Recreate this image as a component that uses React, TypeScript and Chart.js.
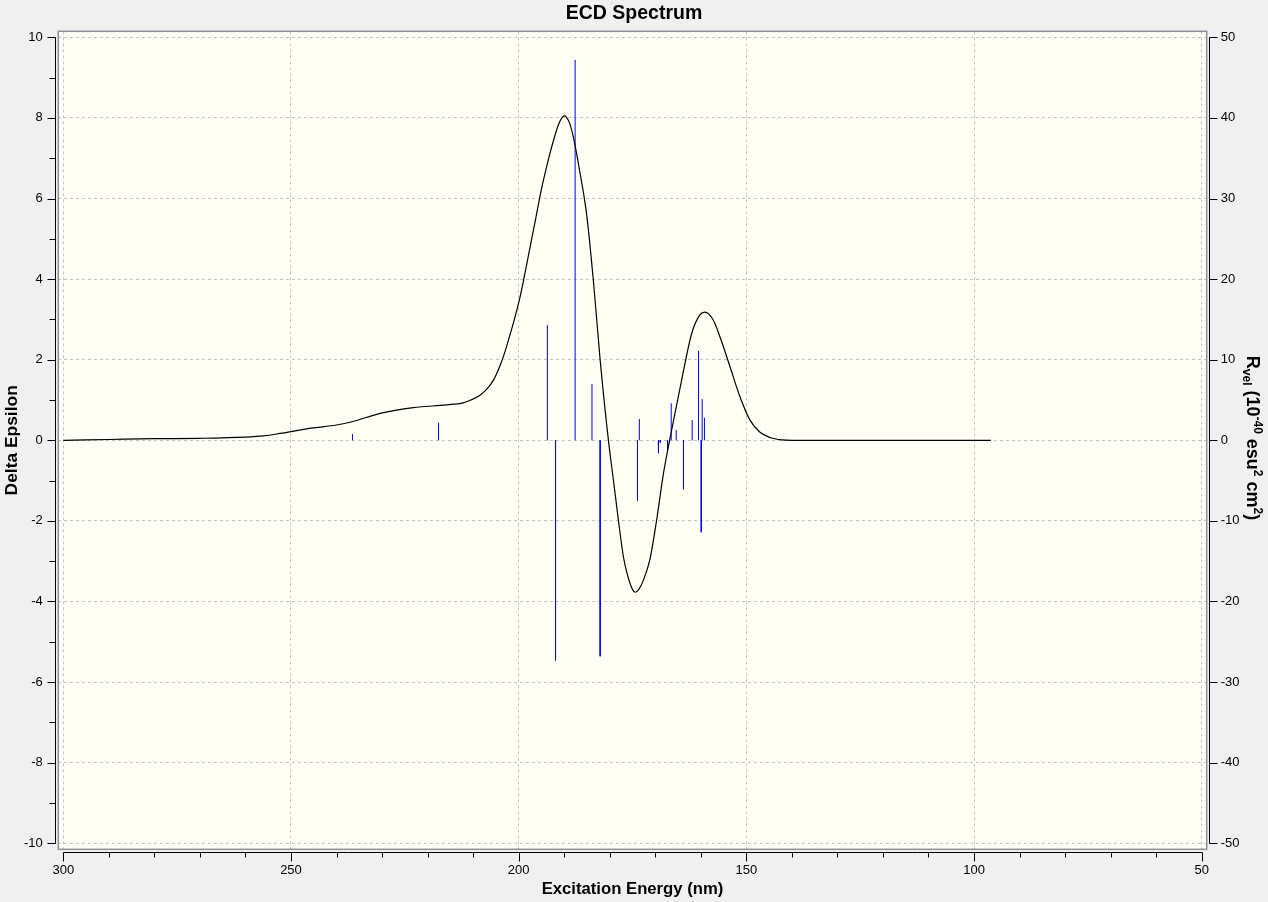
import React, { useEffect, useRef } from 'react';
import { Chart, registerables } from 'chart.js';

Chart.register(...registerables);

// ---- Data ----
const curveNm = [300, 290, 280, 270, 260, 256, 252.4, 245.6, 240, 236.6, 230.4, 223.1, 215.8, 212.2, 210.5, 208.5, 207, 205.5, 204.1, 203, 201.9, 200.7, 199.6, 198, 196.4, 194.9, 193.5, 192.4, 191.2, 190.0, 189, 188, 186.5, 185.1, 183.6, 182.1, 180.3, 179.2, 178.1, 177.0, 176.2, 175.0, 174.4, 173.6, 172.6, 171.2, 169.7, 168.2, 166.5, 164.2, 162.0, 160.2, 159.1, 157.3, 155.8, 153.6, 151.4, 149.2, 147.0, 144.8, 142.2, 140, 96.3];
const curveDeltaEps = [0.0, 0.02, 0.04, 0.05, 0.08, 0.11, 0.17, 0.3, 0.38, 0.46, 0.67, 0.81, 0.88, 0.93, 1.0, 1.12, 1.27, 1.5, 1.85, 2.2, 2.62, 3.1, 3.6, 4.5, 5.42, 6.28, 6.95, 7.42, 7.85, 8.05, 7.92, 7.53, 6.62, 5.63, 3.97, 1.99, 0.01, -0.98, -1.98, -2.89, -3.3, -3.7, -3.77, -3.7, -3.47, -2.97, -1.98, -0.82, 0.2, 1.5, 2.65, 3.11, 3.18, 2.99, 2.57, 1.83, 1.08, 0.5, 0.2, 0.07, 0.01, 0, 0];

const barNm = [236.5, 217.6, 193.7, 191.9, 187.6, 183.9, 182.1, 173.9, 173.5, 169.3, 168.9, 167.3, 166.5, 165.4, 163.8, 161.9, 160.5, 159.9, 159.7, 159.2];
const barRvel = [0.78, 2.19, 14.3, -27.3, 47.2, 7.0, -26.8, -7.5, 2.64, -1.6, -0.3, -1.2, 4.6, 1.28, -6.08, 2.52, 11.08, -11.4, 5.12, 2.8];

const xTicks = [300, 250, 200, 150, 100, 50];
const yTicks = [-10, -8, -6, -4, -2, 0, 2, 4, 6, 8, 10];
const y2Ticks = [-50, -40, -30, -20, -10, 0, 10, 20, 30, 40, 50];

const TITLE = 'ECD Spectrum';
const X_TITLE = 'Excitation Energy (nm)';
const Y_TITLE = 'Delta Epsilon';

const FONT = '"Liberation Sans", Arial, sans-serif';

const decor = {
  id: 'decor',
  beforeDraw(chart: any) {
    const { ctx, chartArea: a } = chart;
    ctx.save();
    ctx.fillStyle = '#f0f0f0';
    ctx.fillRect(0, 0, chart.width, chart.height);
    ctx.fillStyle = '#fffff6';
    ctx.fillRect(a.left, a.top, a.right - a.left, a.bottom - a.top);
    ctx.restore();
  },
  afterDraw(chart: any) {
    const { ctx, chartArea: a } = chart;
    const sx = chart.scales.x, sy = chart.scales.y, sy2 = chart.scales.y2;
    const r = (v: number) => Math.round(v) + 0.5;
    ctx.save();
    // frame
    ctx.strokeStyle = '#8c9098';
    ctx.lineWidth = 1.5;
    ctx.strokeRect(a.left, a.top, a.right - a.left, a.bottom - a.top);
    ctx.strokeStyle = '#000';
    ctx.lineWidth = 1;
    ctx.beginPath();
    // left axis
    const lx = r(a.left - 3.5);
    ctx.moveTo(lx, r(sy.getPixelForValue(10)));
    ctx.lineTo(lx, r(sy.getPixelForValue(-10)));
    for (let v = -10; v <= 10; v += 1) {
      const py = r(sy.getPixelForValue(v));
      const len = v % 2 === 0 ? 8 : 6;
      ctx.moveTo(lx, py);
      ctx.lineTo(lx - len, py);
    }
    // bottom axis
    const by = r(a.bottom + 3);
    ctx.moveTo(r(sx.getPixelForValue(300)), by);
    ctx.lineTo(r(sx.getPixelForValue(50)), by);
    for (let v = 50; v <= 300; v += 10) {
      const px = r(sx.getPixelForValue(v));
      const len = v % 50 === 0 ? 9 : 5;
      ctx.moveTo(px, by);
      ctx.lineTo(px, by + len);
    }
    // right axis
    const rx = r(a.right + 2.5);
    ctx.moveTo(rx, r(sy2.getPixelForValue(50)));
    ctx.lineTo(rx, r(sy2.getPixelForValue(-50)));
    for (let v = -50; v <= 50; v += 10) {
      const py = r(sy2.getPixelForValue(v));
      ctx.moveTo(rx, py);
      ctx.lineTo(rx + 8, py);
    }
    ctx.stroke();

    // right axis title with sub/superscripts
    const big = 'bold 18px ' + FONT;
    const small = 'bold 12px ' + FONT;
    const parts = [
      { t: 'R', f: big, dy: 0 },
      { t: 'vel', f: small, dy: 4 },
      { t: ' (10', f: big, dy: 0 },
      { t: '-40', f: small, dy: -7 },
      { t: ' esu', f: big, dy: 0 },
      { t: '2', f: small, dy: -7 },
      { t: ' cm', f: big, dy: 0 },
      { t: '2', f: small, dy: -7 },
      { t: ')', f: big, dy: 0 },
    ];
    let total = 0;
    const widths = parts.map((p) => { ctx.font = p.f; const w = ctx.measureText(p.t).width; total += w; return w; });
    ctx.translate(1246.5, 438);
    ctx.rotate(Math.PI / 2);
    ctx.fillStyle = '#000';
    ctx.textBaseline = 'alphabetic';
    ctx.textAlign = 'left';
    let x = -total / 2;
    parts.forEach((p, i) => { ctx.font = p.f; ctx.fillText(p.t, x, p.dy); x += widths[i]; });
    ctx.restore();
  },
};

const setTicks = (vals: number[]) => (s: any) => { s.ticks = vals.map((value) => ({ value })); };

export default function App() {
  const ref = useRef<HTMLCanvasElement>(null);
  useEffect(() => {
    if (!ref.current) return;
    const curveData = curveNm.map((x, i) => ({ x, y: curveDeltaEps[i] }));
    const barData: any[] = [];
    barNm.forEach((x, i) => { barData.push({ x, y: 0 }, { x, y: barRvel[i] }, { x, y: null }); });
    const tickFont = { family: FONT, size: 13 };
    const chart = new Chart(ref.current, {
      type: 'line',
      data: {
        datasets: [
          {
            data: curveData, yAxisID: 'y', borderColor: '#000', borderWidth: 1.2,
            pointRadius: 0, cubicInterpolationMode: 'monotone', fill: false,
          } as any,
          {
            data: barData, yAxisID: 'y2', borderColor: '#0000ff', borderWidth: 1,
            pointRadius: 0, spanGaps: false, fill: false,
          } as any,
        ],
      },
      options: {
        animation: false,
        responsive: false,
        events: [],
        layout: { padding: 0 },
        plugins: {
          legend: { display: false },
          tooltip: { enabled: false },
          title: {
            display: true, text: TITLE, color: '#000',
            font: { family: FONT, size: 19.5, weight: 'bold', lineHeight: 1.2 },
            padding: { top: 2.3, bottom: 5.6 },
          },
        },
        scales: {
          x: {
            type: 'linear', reverse: true, min: 48.9, max: 301.1,
            afterBuildTicks: setTicks(xTicks),
            ticks: { color: '#000', font: tickFont, padding: 13, maxRotation: 0, autoSkip: false },
            grid: { color: '#c4c4c4', drawTicks: false, lineWidth: 1 },
            border: { display: false, dash: [3, 3] },
            title: { display: true, text: X_TITLE, color: '#000', font: { family: FONT, size: 16.7, weight: 'bold', lineHeight: 1.2 }, padding: { top: 0, bottom: 3 } },
            afterFit: (s: any) => { s.height = 52.7; },
          },
          y: {
            type: 'linear', position: 'left', min: -10.149, max: 10.149,
            afterBuildTicks: setTicks(yTicks),
            ticks: { color: '#000', font: tickFont, padding: 15.6 },
            grid: { color: '#c4c4c4', drawTicks: false, lineWidth: 1 },
            border: { display: false, dash: [3, 3] },
            title: { display: true, text: Y_TITLE, color: '#000', font: { family: FONT, size: 17.4, weight: 'bold', lineHeight: 1.2 }, padding: { top: 1.3, bottom: 0 } },
            afterFit: (s: any) => { s.width = 58.3; },
          },
          y2: {
            type: 'linear', position: 'right', min: -50.745, max: 50.745,
            afterBuildTicks: setTicks(y2Ticks),
            ticks: { color: '#000', font: tickFont, padding: 14 },
            grid: { display: false, drawTicks: false },
            border: { display: false },
            afterFit: (s: any) => { s.width = 61.3; },
          },
        },
      } as any,
      plugins: [decor],
    });
    return () => chart.destroy();
  }, []);
  return (
    <div style={{ position: 'fixed', left: 0, top: 0, width: 1268, height: 902 }}>
      <canvas ref={ref} width={1268} height={902} style={{ display: 'block', width: 1268, height: 902 }} />
    </div>
  );
}
